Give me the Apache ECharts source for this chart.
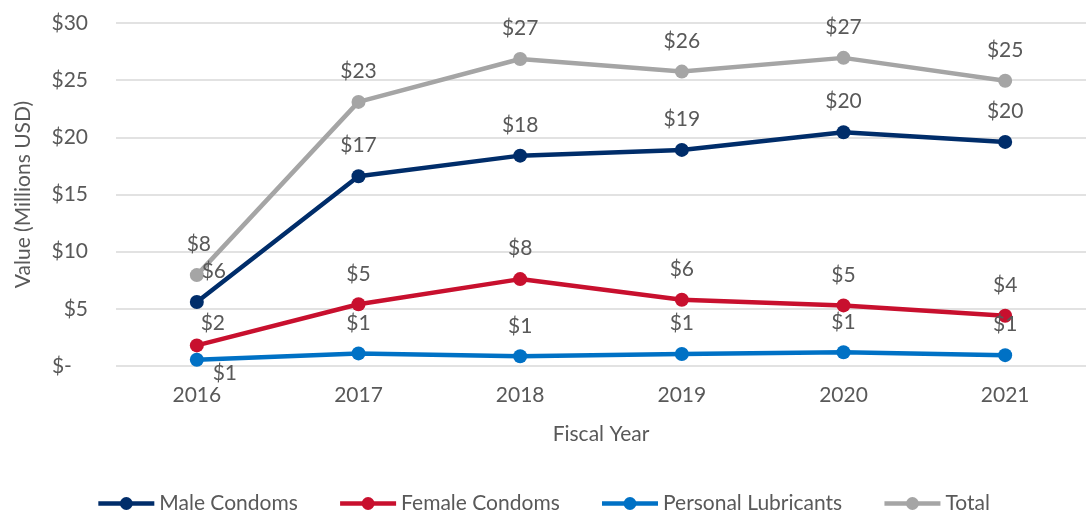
<!DOCTYPE html>
<html>
<head>
<meta charset="utf-8">
<script src="https://cdn.jsdelivr.net/npm/echarts@6/dist/echarts.min.js"></script>
<style>
html,body{margin:0;padding:0;background:#fff;}
#chart{width:1086px;height:514px;}
</style>
</head>
<body>
<div id="chart"></div>
<script>
var years = ['2016', '2017', '2018', '2019', '2020', '2021'];
var maleCondoms = [5.6, 16.6, 18.4, 18.9, 20.45, 19.6];
var femaleCondoms = [1.8, 5.4, 7.6, 5.8, 5.3, 4.4];
var personalLubricants = [0.55, 1.1, 0.85, 1.05, 1.2, 0.95];
var total = [7.95, 23.1, 26.85, 25.75, 26.95, 24.95];
var seriesNames = ['Male Condoms', 'Female Condoms', 'Personal Lubricants', 'Total'];
var seriesColors = ['#002D6A', '#C8102E', '#0071C5', '#A5A5A5'];

var FONT = 'Lato';
var TXT = '#595959';

// per-point label adjustments (first year)
var labelAdjust = [
  {0: {offset: [17, 0]}},
  {0: {offset: [16, 8]}},
  {0: {position: 'bottom', distance: 2, offset: [28, -6]}},
  {0: {offset: [2, 0]}}
];

function buildData(values, adj) {
  return values.map(function (v, i) {
    if (adj[i]) return {value: v, label: adj[i]};
    return v;
  });
}

var allValues = [maleCondoms, femaleCondoms, personalLubricants, total];
var series = allValues.map(function (vals, k) {
  return {
    name: seriesNames[k],
    type: 'line',
    data: buildData(vals, labelAdjust[k]),
    symbol: 'circle',
    symbolSize: 14,
    color: seriesColors[k],
    lineStyle: {width: 4.5, color: seriesColors[k]},
    itemStyle: {color: seriesColors[k]},
    label: {
      show: true,
      position: 'top',
      distance: 13,
      color: TXT,
      fontFamily: FONT,
      fontSize: 21,
      formatter: function (p) { return '$' + Math.round(p.value); }
    },
    emphasis: {disabled: true},
    animation: false
  };
});

var chart = echarts.init(document.getElementById('chart'));
chart.setOption({
  animation: false,
  textStyle: {fontFamily: FONT},
  grid: {left: 116, top: 23, width: 979, height: 343, containLabel: false},
  legend: {
    data: seriesNames,
    top: 488,
    left: 'center',
    itemWidth: 56,
    itemHeight: 16,
    itemGap: 40,
    lineStyle: {width: 4.5},
    textStyle: {color: TXT, fontFamily: FONT, fontSize: 21},
    selectedMode: false
  },
  xAxis: {
    type: 'category',
    data: years,
    boundaryGap: true,
    name: 'Fiscal Year',
    nameLocation: 'middle',
    nameGap: 58,
    nameTextStyle: {color: TXT, fontFamily: FONT, fontSize: 21},
    axisLine: {show: false},
    axisTick: {show: false},
    axisLabel: {color: TXT, fontFamily: FONT, fontSize: 21, margin: 19}
  },
  yAxis: {
    type: 'value',
    min: 0,
    max: 30,
    interval: 5,
    name: 'Value (Millions USD)',
    nameLocation: 'middle',
    nameGap: 82,
    nameTextStyle: {color: TXT, fontFamily: FONT, fontSize: 21},
    axisLine: {show: false},
    axisTick: {show: false},
    axisLabel: {
      color: TXT, fontFamily: FONT, fontSize: 21, margin: 28,
      formatter: function (v) { return v === 0 ? '$-   ' : '$' + v; }
    },
    splitLine: {lineStyle: {color: '#D9D9D9', width: 1.5}}
  },
  series: series
});
</script>
</body>
</html>
